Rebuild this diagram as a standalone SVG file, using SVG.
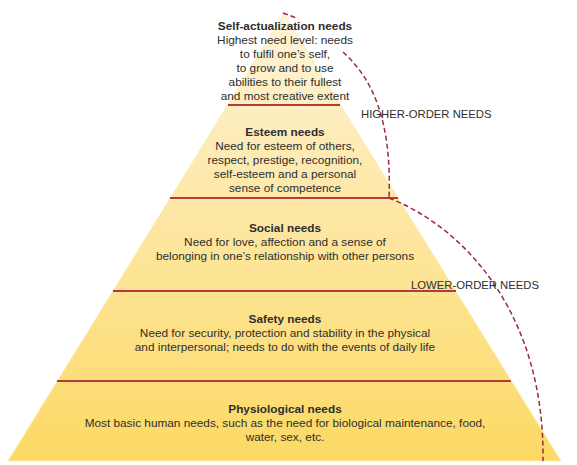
<svg xmlns="http://www.w3.org/2000/svg" width="577" height="465" viewBox="0 0 577 465">
<defs>
<linearGradient id="pyr" x1="0" y1="14" x2="0" y2="461" gradientUnits="userSpaceOnUse">
<stop offset="0" stop-color="#fef4d8"/>
<stop offset="0.45" stop-color="#fde7a4"/>
<stop offset="1" stop-color="#fcd964"/>
</linearGradient>
</defs>
<style>
text{font-family:"Liberation Sans",Arial,sans-serif;font-size:11.8px;fill:#2e2e2e;text-anchor:middle}
.t{font-weight:bold}
.lbl{text-anchor:start;font-size:11.3px}
.sep{stroke:#b53a3d;stroke-width:2}
.dash{fill:none;stroke:#9c2a3a;stroke-width:1.5;stroke-dasharray:5 3}
</style>
<rect width="577" height="465" fill="#ffffff"/>
<polygon points="284,14 561,461 8,461" fill="url(#pyr)" stroke="#fdebb0" stroke-width="1"/>
<g id="self-actualization">
<text x="285" y="30" class="t">Self-actualization needs</text>
<text x="285" y="44">Highest need level: needs</text>
<text x="285" y="58">to fulfil one’s self,</text>
<text x="285" y="72">to grow and to use</text>
<text x="285" y="86">abilities to their fullest</text>
<text x="285" y="100">and most creative extent</text>
<line class="sep" x1="228" y1="105" x2="340" y2="105"/>
</g>
<g id="esteem">
<text x="285" y="136" class="t">Esteem needs</text>
<text x="285" y="150">Need for esteem of others,</text>
<text x="285" y="164">respect, prestige, recognition,</text>
<text x="285" y="178">self-esteem and a personal</text>
<text x="285" y="192">sense of competence</text>
<line class="sep" x1="170" y1="198" x2="398" y2="198"/>
</g>
<g id="social">
<text x="285" y="232" class="t">Social needs</text>
<text x="285" y="246">Need for love, affection and a sense of</text>
<text x="285" y="260">belonging in one’s relationship with other persons</text>
<line class="sep" x1="113" y1="291" x2="456" y2="291"/>
</g>
<g id="safety">
<text x="285" y="323" class="t">Safety needs</text>
<text x="285" y="337">Need for security, protection and stability in the physical</text>
<text x="285" y="351">and interpersonal; needs to do with the events of daily life</text>
<line class="sep" x1="57" y1="381" x2="511" y2="381"/>
</g>
<g id="physiological">
<text x="285" y="413" class="t">Physiological needs</text>
<text x="285" y="427">Most basic human needs, such as the need for biological maintenance, food,</text>
<text x="285" y="441">water, sex, etc.</text>
</g>
<g id="connectors">
<path class="dash" d="M283,13 C288,15 292,16 296,18"/>
<path class="dash" d="M343,52 C372,78 392,120 389,198"/>
<path class="dash" d="M389,198 C470,230 545,320 543,461"/>
</g>
<g id="labels">
<text x="361" y="118" class="lbl">HIGHER-ORDER NEEDS</text>
<text x="411" y="289" class="lbl">LOWER-ORDER NEEDS</text>
</g>
</svg>
